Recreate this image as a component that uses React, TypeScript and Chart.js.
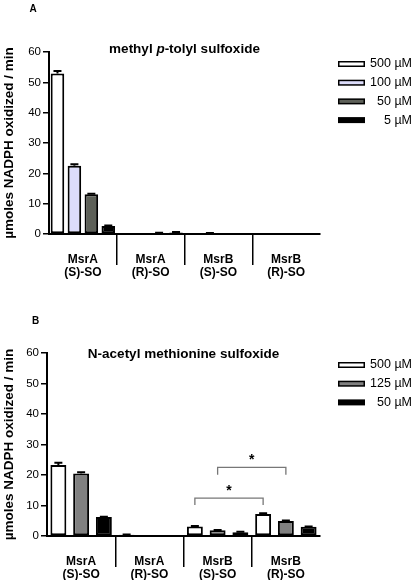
import React, { useEffect, useRef } from "react";
import { Chart, registerables } from "chart.js";

Chart.register(...registerables);

const FONT = '"Liberation Sans", Arial, Helvetica, sans-serif';

// ---------- shared ----------
const categories = [
  ["MsrA", "(S)-SO"],
  ["MsrA", "(R)-SO"],
  ["MsrB", "(S)-SO"],
  ["MsrB", "(R)-SO"],
];
const yAxisTitle = "µmoles NADPH oxidized / min";
const yMin = 0;
const yMax = 60;
const yStep = 10;

// ---------- panel A ----------
const aLetter = "A";
const aTitle = [
  { text: "methyl ", italic: false },
  { text: "p", italic: true },
  { text: "-tolyl sulfoxide", italic: false },
];
const aSeriesLabels = ["500 µM", "100 µM", "50 µM", "5 µM"];
const a500 = [52.9, 0, 0, 0];
const a100 = [22.5, 0, 0.2, 0];
const a50 = [13.1, 0.3, 0, 0];
const a5 = [2.6, 0.5, 0, 0];
const a500Err = [0.8, 0, 0, 0];
const a100Err = [0.5, 0, 0.1, 0];
const a50Err = [0.2, 0.1, 0, 0];
const a5Err = [0.2, 0.2, 0, 0];
const aColors = ["#ffffff", "#dcdcfa", "#5d6058", "#000000"];

// ---------- panel B ----------
const bLetter = "B";
const bTitle = [{ text: "N-acetyl methionine sulfoxide", italic: false }];
const bSeriesLabels = ["500 µM", "125 µM", "50 µM"];
const b500 = [23.3, 0.4, 3.1, 7.2];
const b125 = [20.5, 0, 1.9, 4.9];
const b50 = [6.2, 0, 1.2, 3.0];
const b500Err = [0.7, 0.1, 0.2, 0.3];
const b125Err = [0.4, 0, 0.1, 0.2];
const b50Err = [0.1, 0, 0.2, 0.1];
const bColors = ["#ffffff", "#808080", "#000000"];
// significance brackets: series index, from/to category, bracket height, leg end, label height
const bBracketSeries = [0, 1];
const bBracketFrom = [2, 2];
const bBracketTo = [3, 3];
const bBracketY = [12.4, 22.5];
const bBracketLegY = [10.2, 20.1];
const bBracketStarY = [15.3, 25.5];
const bBracketText = ["*", "*"];

type Seg = { text: string; italic: boolean };
interface PanelSpec {
  letter: string;
  letterX: number;
  letterY: number;
  title: Seg[];
  titleDy: number;
  labels: string[];
  series: number[][];
  errors: number[][];
  colors: string[];
  yWidth: number;
  xHeight: number;
  barPct: number;
  brackets?: {
    series: number[];
    from: number[];
    to: number[];
    y: number[];
    leg: number[];
    star: number[];
    text: string[];
  };
}

function makeChart(canvas: HTMLCanvasElement, spec: PanelSpec) {
  const decor = {
    id: "decor",
    afterDatasetsDraw(chart: any) {
      const { ctx } = chart;
      const ys = chart.scales.y;
      ctx.save();
      // error bars
      spec.series.forEach((vals, i) => {
        const meta = chart.getDatasetMeta(i);
        meta.data.forEach((bar: any, j: number) => {
          const v = vals[j];
          const e = spec.errors[i][j];
          if (!e) return;
          const y0 = ys.getPixelForValue(v);
          const y1 = ys.getPixelForValue(v + e);
          ctx.strokeStyle = "#000";
          ctx.lineWidth = 2;
          ctx.beginPath();
          ctx.moveTo(bar.x, y0);
          ctx.lineTo(bar.x, y1);
          ctx.moveTo(bar.x - 4, y1);
          ctx.lineTo(bar.x + 4, y1);
          ctx.stroke();
        });
      });
      // brackets
      const br = spec.brackets;
      if (br) {
        br.series.forEach((s, k) => {
          const meta = chart.getDatasetMeta(s);
          const xa = meta.data[br.from[k]].x;
          const xb = meta.data[br.to[k]].x;
          const yb = ys.getPixelForValue(br.y[k]);
          const yl = ys.getPixelForValue(br.leg[k]);
          ctx.strokeStyle = "#777";
          ctx.lineWidth = 1.3;
          ctx.beginPath();
          ctx.moveTo(xa, yl);
          ctx.lineTo(xa, yb);
          ctx.lineTo(xb, yb);
          ctx.lineTo(xb, yl);
          ctx.stroke();
          ctx.fillStyle = "#000";
          ctx.font = `bold 14px ${FONT}`;
          ctx.textAlign = "center";
          ctx.textBaseline = "middle";
          ctx.fillText(br.text[k], (xa + xb) / 2, ys.getPixelForValue(br.star[k]) + 2);
        });
      }
      ctx.restore();
    },
    afterDraw(chart: any) {
      const { ctx, chartArea } = chart;
      ctx.save();
      ctx.fillStyle = "#000";
      // panel letter
      ctx.font = `bold 10px ${FONT}`;
      ctx.textAlign = "center";
      ctx.textBaseline = "middle";
      ctx.fillText(spec.letter, spec.letterX, spec.letterY);
      // title with mixed styles
      const size = 13.5;
      const fonts = spec.title.map((s) => `${s.italic ? "italic " : ""}bold ${size}px ${FONT}`);
      let total = 0;
      const widths = spec.title.map((s, i) => {
        ctx.font = fonts[i];
        const w = ctx.measureText(s.text).width;
        total += w;
        return w;
      });
      let x = (chartArea.left + chartArea.right) / 2 - total / 2;
      ctx.textAlign = "left";
      spec.title.forEach((s, i) => {
        ctx.font = fonts[i];
        ctx.fillText(s.text, x, chartArea.top + spec.titleDy);
        x += widths[i];
      });
      // legend
      const ds = chart.data.datasets;
      ds.forEach((d: any, i: number) => {
        const cy = chartArea.top + 12 + i * 18.7;
        const bx = chartArea.right + 18;
        const bw = 27;
        const bh = 6;
        ctx.fillStyle = "#000";
        ctx.fillRect(bx, cy - bh / 2, bw, bh);
        ctx.fillStyle = d.backgroundColor;
        ctx.fillRect(bx + 1.5, cy - bh / 2 + 1.5, bw - 3, bh - 3);
        ctx.fillStyle = "#000";
        ctx.font = `12.5px ${FONT}`;
        ctx.textAlign = "right";
        ctx.textBaseline = "middle";
        ctx.fillText(d.label, chartArea.right + 92, cy);
      });
      ctx.restore();
    },
  };

  return new Chart(canvas, {
    type: "bar",
    data: {
      labels: categories,
      datasets: spec.series.map((vals, i) => ({
        label: spec.labels[i],
        data: vals,
        backgroundColor: spec.colors[i],
        borderColor: "#000",
        borderWidth: 2,
        borderSkipped: false,
        categoryPercentage: 1.0,
        barPercentage: spec.barPct,
      })),
    },
    options: {
      animation: false,
      responsive: false,
      maintainAspectRatio: false,
      layout: { padding: { top: 52, right: 95, bottom: 0, left: 0 } },
      plugins: {
        legend: { display: false },
        tooltip: { enabled: false },
        title: { display: false },
      },
      scales: {
        x: {
          type: "category",
          grid: {
            offset: true,
            drawOnChartArea: false,
            drawTicks: true,
            tickLength: 31,
            lineWidth: 1.5,
            color: (c: any) => (c.type === "tick" && c.index > 0 ? "#000" : "rgba(0,0,0,0)"),
          },
          border: { display: true, color: "#000", width: 2 },
          ticks: {
            color: "#000",
            font: { family: FONT, size: 12, weight: "bold", lineHeight: 1.05 },
            padding: -11.5,
            autoSkip: false,
            maxRotation: 0,
          },
          afterFit: (s: any) => {
            s.height = spec.xHeight;
          },
        },
        y: {
          min: yMin,
          max: yMax,
          ticks: {
            stepSize: yStep,
            color: "#000",
            font: { family: FONT, size: 11.5 },
            padding: 2,
          },
          grid: {
            drawOnChartArea: false,
            drawTicks: true,
            tickLength: 6,
            lineWidth: 1.5,
            color: "#000",
          },
          border: { display: true, color: "#000", width: 2 },
          title: {
            display: true,
            text: yAxisTitle,
            color: "#000",
            font: { family: FONT, size: 13.5, weight: "bold" },
            padding: { top: 1, bottom: 0 },
          },
          afterFit: (s: any) => {
            s.width = spec.yWidth;
          },
        },
      },
    },
    plugins: [decor],
  } as any);
}

const specA: PanelSpec = {
  letter: aLetter,
  letterX: 33,
  letterY: 9,
  title: aTitle,
  titleDy: -3,
  labels: aSeriesLabels,
  series: [a500, a100, a50, a5],
  errors: [a500Err, a100Err, a50Err, a5Err],
  colors: aColors,
  yWidth: 49,
  xHeight: 56,
  barPct: 0.8,
};

const specB: PanelSpec = {
  letter: bLetter,
  letterX: 35.5,
  letterY: 20.5,
  title: bTitle,
  titleDy: 1,
  labels: bSeriesLabels,
  series: [b500, b125, b50],
  errors: [b500Err, b125Err, b50Err],
  colors: bColors,
  yWidth: 47,
  xHeight: 44,
  barPct: 0.7,
  brackets: {
    series: bBracketSeries,
    from: bBracketFrom,
    to: bBracketTo,
    y: bBracketY,
    leg: bBracketLegY,
    star: bBracketStarY,
    text: bBracketText,
  },
};

export default function App() {
  const refA = useRef<HTMLCanvasElement | null>(null);
  const refB = useRef<HTMLCanvasElement | null>(null);

  useEffect(() => {
    const ca = refA.current ? makeChart(refA.current, specA) : null;
    const cb = refB.current ? makeChart(refB.current, specB) : null;
    return () => {
      ca?.destroy();
      cb?.destroy();
    };
  }, []);

  return (
    <div
      style={{
        position: "absolute",
        left: 0,
        top: 0,
        width: 415,
        height: 580,
        background: "#fff",
        overflow: "hidden",
      }}
    >
      <canvas
        ref={refA}
        width={415}
        height={290}
        style={{ position: "absolute", left: 0, top: 0, width: 415, height: 290 }}
      />
      <canvas
        ref={refB}
        width={415}
        height={279}
        style={{ position: "absolute", left: 0, top: 301, width: 415, height: 279 }}
      />
    </div>
  );
}
